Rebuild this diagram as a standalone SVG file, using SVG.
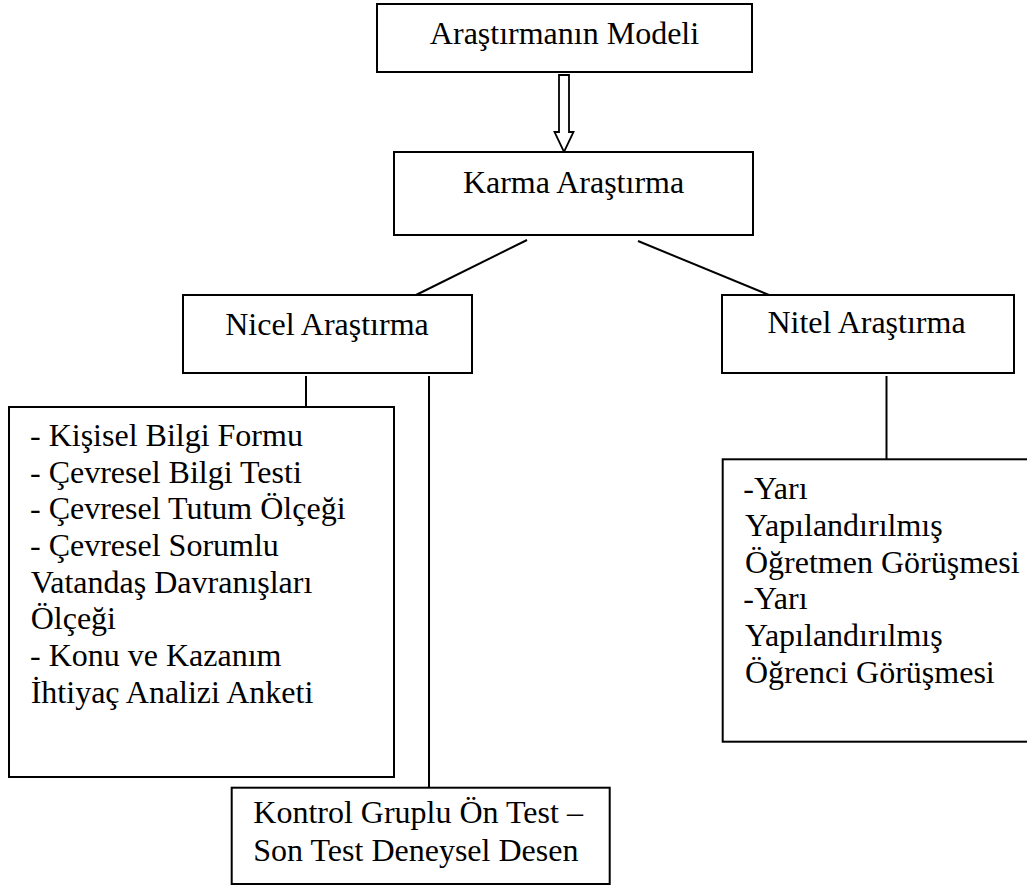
<svg xmlns="http://www.w3.org/2000/svg" width="1027" height="887" viewBox="0 0 1027 887">
<style>
.box{fill:#fff;stroke:#000;stroke-width:2}
.t{font-family:"Liberation Serif","Times New Roman",serif;font-size:32px;fill:#000}
.c{text-anchor:middle}
.ln{stroke:#000;stroke-width:2;fill:none}
.arrow{fill:#fff;stroke:#000;stroke-width:1.8}
</style>
<rect width="1027" height="887" fill="#fff"/>
<g id="connectors">
<path class="arrow" d="M559,75 H569 V132 H573.5 L564,152 L554.5,132 H559 Z"/>
<line class="ln" x1="527" y1="240" x2="416" y2="295"/>
<line class="ln" x1="638" y1="241" x2="769" y2="295"/>
<line class="ln" x1="306" y1="376" x2="306" y2="407"/>
<line class="ln" x1="429" y1="376" x2="429" y2="788"/>
<line class="ln" x1="886.5" y1="376" x2="886.5" y2="459"/>
</g>
<g id="model">
<rect class="box" x="377" y="4" width="375" height="68"/>
<text class="t c" x="564.5" y="44">Araştırmanın Modeli</text>
</g>
<g id="karma">
<rect class="box" x="394" y="152" width="359" height="83"/>
<text class="t c" x="573.5" y="193">Karma Araştırma</text>
</g>
<g id="nicel">
<rect class="box" x="183" y="295" width="289" height="78"/>
<text class="t c" x="327" y="335">Nicel Araştırma</text>
</g>
<g id="nitel">
<rect class="box" x="722" y="295" width="292" height="78"/>
<text class="t c" x="866.5" y="333">Nitel Araştırma</text>
</g>
<g id="nicel-tools">
<rect class="box" x="9" y="407" width="385" height="370"/>
<text class="t" x="30" y="446">
<tspan x="30" y="446">- Kişisel Bilgi Formu</tspan>
<tspan x="30" y="482.7">- Çevresel Bilgi Testi</tspan>
<tspan x="30" y="519.3">- Çevresel Tutum Ölçeği</tspan>
<tspan x="30" y="556">- Çevresel Sorumlu</tspan>
<tspan x="30.7" y="592.7">Vatandaş Davranışları</tspan>
<tspan x="30.7" y="629.3">Ölçeği</tspan>
<tspan x="30" y="666">- Konu ve Kazanım</tspan>
<tspan x="30.7" y="702.7">İhtiyaç Analizi Anketi</tspan>
</text>
</g>
<g id="nitel-tools">
<rect class="box" x="722.7" y="459.3" width="320" height="282.4"/>
<text class="t" x="743.3" y="499.3">
<tspan x="743.3" y="499.3">-Yarı</tspan>
<tspan x="745" y="536">Yapılandırılmış</tspan>
<tspan x="745" y="572.7">Öğretmen Görüşmesi</tspan>
<tspan x="743.3" y="609.3">-Yarı</tspan>
<tspan x="745" y="646">Yapılandırılmış</tspan>
<tspan x="745" y="682.7">Öğrenci Görüşmesi</tspan>
</text>
</g>
<g id="design">
<rect class="box" x="231.7" y="787.7" width="378" height="96.3"/>
<text class="t" x="253.3" y="823.3">
<tspan x="253.3" y="823.3">Kontrol Gruplu Ön Test –</tspan>
<tspan x="253.3" y="860.7">Son Test Deneysel Desen</tspan>
</text>
</g>
</svg>
